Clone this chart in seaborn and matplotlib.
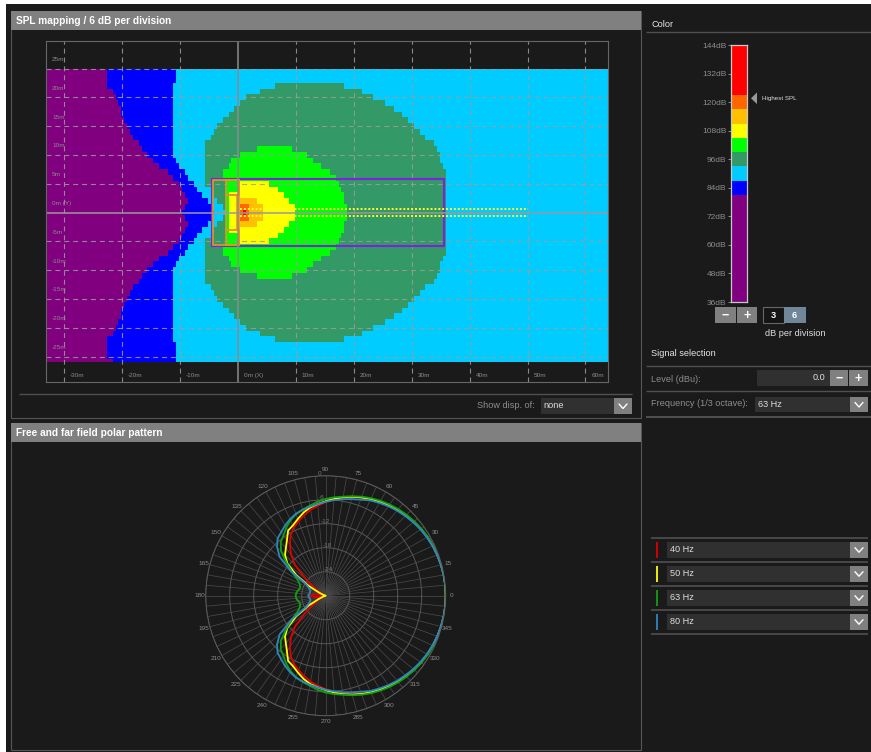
import numpy as np
import pandas as pd
import seaborn as sns
import matplotlib.pyplot as plt
from matplotlib.colors import ListedColormap
from matplotlib.patches import Rectangle, Polygon

# --- SPL map, boundaries in metres, one value per row of |y| = 0, 1, 2 ...
blue_left = [-9.5, -9, -8.7, -9, -9.5, -10.2, -11.2, -12.3, -13.6, -14.8, -15.8, -16.6, -17.2, -18,
             -18.6, -19, -19.5, -20, -20.4, -20.9, -21.3, -21.9, -22.5, -22.7, -22.5, -22.5, -21.8]
blue_right = [-4.4, -4.9, -5.4, -6.2, -7, -7.8, -8.8, -9.4, -10, -10.6, -11.1, -11.4, -11.4, -11.4,
              -11.4, -11.4, -11.4, -11.4, -11.4, -11.4, -11.4, -11.4, -11.4, -10.7, -10.5, -10.5, -10.5]
seagreen_left = [-2.2, -2.9, -3.5, -4.2, -4.5, -5.6, -5.6, -5.6, -5.6, -5.6, -5.6, -5.6, -5.6,
                 -4.9, -4.3, -3.5, -2.7, -1.7, -0.7, 0.2, 1.5, 4, 6.5]
seagreen_right = [36, 36, 36, 36, 36, 36, 36, 35.9, 35.5, 35, 34.6, 34.2, 33.6,
                  32.4, 31.2, 30.2, 29.3, 28.4, 27, 25.4, 23.4, 21.4, 18.5]
lime_left = [-2.4, -2.4, -2.4, -2.4, -2.4, -2.4, -2.6, -2.8, -1.8, -1, 0.5, 3.3]
lime_right = [18.6, 18.6, 18.4, 18.2, 17.9, 17.3, 16.6, 15.9, 14.3, 13, 12, 9.5]
yellow_left = [-1.5, -1.5, -1.5, -1.5, 0.2, 0.4]
yellow_right = [9.7, 9.6, 9, 8, 7, 5.5]
amber_left = [0.2, 0.2, 0.4]
amber_right = [4.4, 4.2, 3.2]
orange_left = [0.2, 0.3]
orange_right = [2, 1.8]
red_left = [0.6]
red_right = [1.3]

spl_colors = ['#800080', '#0000ff', '#00ccff', '#339966', '#00ff00',
              '#ffff00', '#ffc000', '#ff6600', '#ff0000']

x_ticks = [-30, -20, -10, 10, 20, 30, 40, 50, 60]
x_tick_labels = ['-30m', '-20m', '-10m', '10m', '20m', '30m', '40m', '50m', '60m']
y_ticks = [25, 20, 15, 10, 5, -5, -10, -15, -20, -25]
y_tick_labels = ['25m', '20m', '15m', '10m', '5m', '-5m', '-10m', '-15m', '-20m', '-25m']

# --- colour scale
band_edges = [36, 81, 87, 93, 99, 105, 111, 117, 123, 144]
scale_ticks = [144, 132, 120, 108, 96, 84, 72, 60, 48, 36]

# --- polar pattern, dB every 5 degrees from 0 to 180, mirrored below
polar_angles = list(range(0, 185, 5))
db_40 = [0, 0, -.05, -.15, -.3, -.45, -.65, -.9, -1.2, -1.55, -1.95, -2.4, -2.85, -3.35, -3.85, -4.5, -5.2, -5.9,
         -6.6, -7.4, -8.2, -9.2, -10.2, -11.2, -12.5, -14.4, -16.5, -19.2, -23.4, -26.5, -28, -29, -29.5, -29.6,
         -28.2, -26.8, -26]
db_50 = [0, 0, -.05, -.15, -.3, -.45, -.65, -.9, -1.2, -1.55, -1.95, -2.4, -2.85, -3.35, -3.85, -4.4, -5, -5.7,
         -6.4, -7, -7.6, -8.5, -9.6, -10.6, -11.2, -13.1, -14.5, -15.6, -17.5, -21, -25, -28.2, -29.3, -30,
         -30, -30, -30]
db_63 = [0, 0, -.05, -.1, -.2, -.35, -.55, -.8, -1.1, -1.4, -1.75, -2.15, -2.6, -3.1, -3.65, -4.25, -4.85, -5.3,
         -5.8, -6.4, -7.15, -7.7, -8.3, -9.2, -10.3, -11.6, -12.5, -14.2, -17.2, -19.8, -21.8, -22.8, -23.2, -23.3,
         -22.9, -22.6, -22.5]
db_80 = [0, 0, -.1, -.2, -.35, -.55, -.8, -1.1, -1.45, -1.85, -2.25, -2.7, -3.2, -3.7, -4.45, -5, -5.5, -6,
         -6.5, -7, -7.4, -7.8, -8.2, -8.9, -9.7, -10.6, -11.3, -12.8, -15, -19.5, -24.3, -25.3, -25.9, -26,
         -26, -25.8, -25.6]
freq_names = ['40 Hz', '50 Hz', '63 Hz', '80 Hz']
freq_colors = ['#e00000', '#ffff00', '#12a012', '#2e86c1']
r_ticks = [-24, -18, -12, -6, 0]
r_tick_labels = ['-24', '-18', '-12', '-6', '0']

W, H = 871, 752
PX_PER_M_X, PX_PER_M_Y = 5.79, 5.76
X0_PX, Y0_PX = 238, 212.5
BG = '#1a1a1a'
GREY_TEXT = '#8c8c8c'

sns.set_style('dark')
plt.rcParams['font.family'] = ['Liberation Sans', 'DejaVu Sans']


def add_px_axes(fig, x0, y0, x1, y1, **kw):
    return fig.add_axes([x0 / W, 1 - y1 / H, (x1 - x0) / W, (y1 - y0) / H], **kw)


fig = plt.figure(figsize=(W / 100, H / 100), dpi=100, facecolor='white')

# UI background, drawn in pixel coordinates
ui = fig.add_axes([0, 0, 1, 1])
ui.set_xlim(0, W)
ui.set_ylim(H, 0)
ui.axis('off')


def box(x0, y0, x1, y1, color, edge='none', lw=0):
    ui.add_patch(Rectangle((x0, y0), x1 - x0, y1 - y0, facecolor=color, edgecolor=edge, linewidth=lw))


def rule(x0, x1, y, color='#505050', lw=1.0):
    ui.plot([x0, x1], [y, y], color=color, lw=lw, solid_capstyle='butt')


def label(x, y, s, color='#dddddd', size=6.6, ha='left', **kw):
    ui.text(x, y, s, color=color, fontsize=size, ha=ha, va='center', **kw)


def chevron_button(x0, y0, x1, y1):
    box(x0, y0, x1, y1, '#808080')
    cx, cy = (x0 + x1) / 2, (y0 + y1) / 2
    ui.plot([cx - 4, cx, cx + 4], [cy - 2, cy + 2.5, cy - 2], color='white', lw=1.0)


def dropdown(x0, y0, x1, y1, text):
    box(x0, y0, x1, y1, '#303030')
    chevron_button(x1, y0, x1 + 18, y1)
    label(x0 + 2.5, (y0 + y1) / 2, text)


def sign_button(x0, y0, x1, y1, sign):
    box(x0, y0, x1, y1, '#808080')
    label((x0 + x1) / 2, (y0 + y1) / 2 + 1, sign, color='white', size=9, ha='center', fontweight='bold')


box(6, 4, W, H, BG)

# left panels
for top, bottom, title in [(10.5, 417.5, 'SPL mapping / 6 dB per division'),
                           (423, 750, 'Free and far field polar pattern')]:
    box(11, top, 641, bottom, BG, edge='#555555', lw=0.8)
    box(11, top, 641, top + 19, '#808080')
    label(16, top + 10, title, color='white', size=7.25, fontweight='bold')

rule(19, 632, 394)
label(535, 406, 'Show disp. of:', color=GREY_TEXT, ha='right')
dropdown(541, 398, 614, 414, 'none')

# right column
label(651, 24.5, 'Color', color='#e6e6e6')
rule(646, W, 31.5)
sign_button(715, 307, 735.5, 322.5, '\u2212')
sign_button(736.5, 307, 757, 322.5, '+')
box(763, 307, 784, 322.5, '#151515', edge='#666666', lw=0.8)
box(784, 307, 805.5, 322.5, '#6f8799')
label(773.5, 315, '3', color='white', ha='center', fontweight='bold')
label(794.5, 315, '6', color='white', ha='center', fontweight='bold')
label(795, 333.5, 'dB per division', ha='center')
label(651, 354, 'Signal selection', color='#e6e6e6')
rule(646, W, 365.5)
label(651, 379, 'Level (dBu):', color=GREY_TEXT)
box(757, 369.5, 829.5, 386, '#303030')
label(825, 378, '0.0', ha='right')
sign_button(830, 369.5, 848, 386, '\u2212')
sign_button(849, 369.5, 868, 386, '+')
rule(646, W, 391)
label(651, 404, 'Frequency (1/3 octave):', color=GREY_TEXT)
dropdown(755, 397, 850, 412, '63 Hz')
rule(646, W, 416.5, lw=1.4)

ui.add_patch(Polygon([[757, 92.5], [757, 104], [751, 98.3]], facecolor='#999999', edgecolor='none'))
label(762, 98.3, 'Highest SPL', color='#dddddd', size=4.5)

rule(651, 868, 537.5, lw=1.2)
for i, (name, col) in enumerate(zip(freq_names, freq_colors)):
    y_top = 542 + i * 24
    dropdown(667, y_top, 850, y_top + 15.5, name)
    ui.plot([657, 657], [y_top - 0.5, y_top + 16], color=col, lw=1.3, solid_capstyle='butt')
    rule(651, 868, y_top + 20, lw=1.2)

# SPL map
x_min = (46 - X0_PX) / PX_PER_M_X
x_max = (608 - X0_PX) / PX_PER_M_X
x_cells = np.arange(x_min + 0.25, x_max, 0.5)
row_values = list(range(25, -27, -1))
grid = np.full((len(row_values), len(x_cells)), 2)
bands = [(3, seagreen_left, seagreen_right), (4, lime_left, lime_right), (5, yellow_left, yellow_right),
         (6, amber_left, amber_right), (7, orange_left, orange_right), (8, red_left, red_right)]
for r, y in enumerate(row_values):
    row = abs(y)
    grid[r, x_cells < blue_right[row]] = 1
    grid[r, x_cells < blue_left[row]] = 0
    for level, left, right in bands:
        if row < len(left):
            grid[r, (x_cells >= left[row]) & (x_cells < right[row])] = level

ax_map = add_px_axes(fig, 46, 69, 608, 361.7)
sns.heatmap(grid, ax=ax_map, cmap=ListedColormap(spl_colors), vmin=-0.5, vmax=8.5,
            cbar=False, xticklabels=False, yticklabels=False)
ax_map.set_ylim(25.5 + 25.9, 25.5 - 24.9)

# metre scale, grid and markers over the map
over = add_px_axes(fig, 46, 41, 608, 382)
over.patch.set_visible(False)
over.set_xlim(x_min, x_max)
over.set_ylim((Y0_PX - 382) / PX_PER_M_Y, (Y0_PX - 41) / PX_PER_M_Y)
over.set_xticks(x_ticks)
over.set_yticks(y_ticks)
over.tick_params(length=0, labelbottom=False, labelleft=False)
over.grid(True, color='#9c9c9c', lw=0.8, ls=(0, (4.5, 3.5)), alpha=0.85)
for side in over.spines.values():
    side.set_color('#666666')
    side.set_linewidth(0.8)
over.axhline(0, color='#9a9a9a', lw=1.1)
over.axvline(0, color='#8c8c8c', lw=1.1)
for x, s in zip(x_ticks, x_tick_labels):
    over.text(x + 1.0, -28.3, s, color=GREY_TEXT, fontsize=4.6, va='center')
over.text(1.0, -28.3, '0m (X)', color=GREY_TEXT, fontsize=4.6, va='center')
for y, s in zip(y_ticks, y_tick_labels):
    over.text(-32.1, y + 1.55, s, color=GREY_TEXT, fontsize=4.6, va='center')
over.text(-32.1, 1.55, '0m (Y)', color=GREY_TEXT, fontsize=4.6, va='center')

over.add_patch(Rectangle((-4.5, -5.9), 40, 11.8, fill=False, edgecolor='#8020e0', lw=1.5))
for x0, x1, y0, y1 in [(-4.4, 0.2, -5.6, 5.6), (-2.1, 0.2, 3.1, 5.6), (-2.1, 0.2, -5.6, -3.1), (-2.1, -0.1, -3.1, 3.1)]:
    over.add_patch(Rectangle((x0, y0), x1 - x0, y1 - y0, fill=False, edgecolor='#e8951e', lw=1.2))
for y in [0.6, -0.6]:
    over.plot([0.3, 50], [y, y], color='#ffff20', lw=1.4, ls=(0, (1, 1)))

# colour scale
db_rows = np.arange(143.5, 36, -1)
scale_levels = np.searchsorted(band_edges, db_rows) - 1
ax_scale = add_px_axes(fig, 731, 45, 747.3, 302)
sns.heatmap(scale_levels.reshape(-1, 1), ax=ax_scale, cmap=ListedColormap(spl_colors), vmin=-0.5, vmax=8.5,
            cbar=False, xticklabels=False, yticklabels=False)
ax_scale.set_yticks([144 - d for d in scale_ticks])
ax_scale.set_yticklabels([f'{d}dB' for d in scale_ticks], rotation=0, color=GREY_TEXT, fontsize=6.0)
ax_scale.tick_params(axis='y', length=2.2, width=0.7, color='#888888', pad=1, left=True)
for side in ax_scale.spines.values():
    side.set_visible(True)
    side.set_color('#c8c8c8')
    side.set_linewidth(0.9)

# polar pattern
rows = []
for name, values in zip(freq_names, [db_40, db_50, db_63, db_80]):
    for a, v in zip(polar_angles, values):
        rows.append((name, np.deg2rad(a), v))
    for a, v in zip(polar_angles[::-1], values[::-1]):
        rows.append((name, np.deg2rad(360 - a), v))
polar_df = pd.DataFrame(rows, columns=['freq', 'theta', 'db'])

ax_pol = add_px_axes(fig, 205.7, 475.7, 445.7, 715.7, projection='polar')
ax_pol.patch.set_visible(False)
sns.lineplot(data=polar_df, x='theta', y='db', hue='freq', hue_order=freq_names,
             palette=dict(zip(freq_names, freq_colors)), sort=False, estimator=None,
             linewidth=1.3, legend=False, ax=ax_pol)
ax_pol.set_xlabel('')
ax_pol.set_ylabel('')
ax_pol.set_ylim(-30, 0)
ax_pol.set_thetagrids(list(range(0, 360, 5)),
                      labels=[str(a) if a % 15 == 0 else '' for a in range(0, 360, 5)])
ax_pol.set_yticks(r_ticks)
ax_pol.set_yticklabels(r_tick_labels)
ax_pol.set_rlabel_position(94)
ax_pol.tick_params(axis='x', colors=GREY_TEXT, labelsize=4.6, pad=-6)
ax_pol.tick_params(axis='y', colors='#777777', labelsize=4.6, pad=0)
ax_pol.xaxis.grid(True, color='#484848', lw=0.55)
ax_pol.yaxis.grid(True, color='#575757', lw=0.7)
ax_pol.spines['polar'].set_color('#5c5c5c')
ax_pol.spines['polar'].set_linewidth(0.7)
ax_pol.set_axisbelow(True)

fig.savefig('out.png', dpi=100, facecolor=fig.get_facecolor())
